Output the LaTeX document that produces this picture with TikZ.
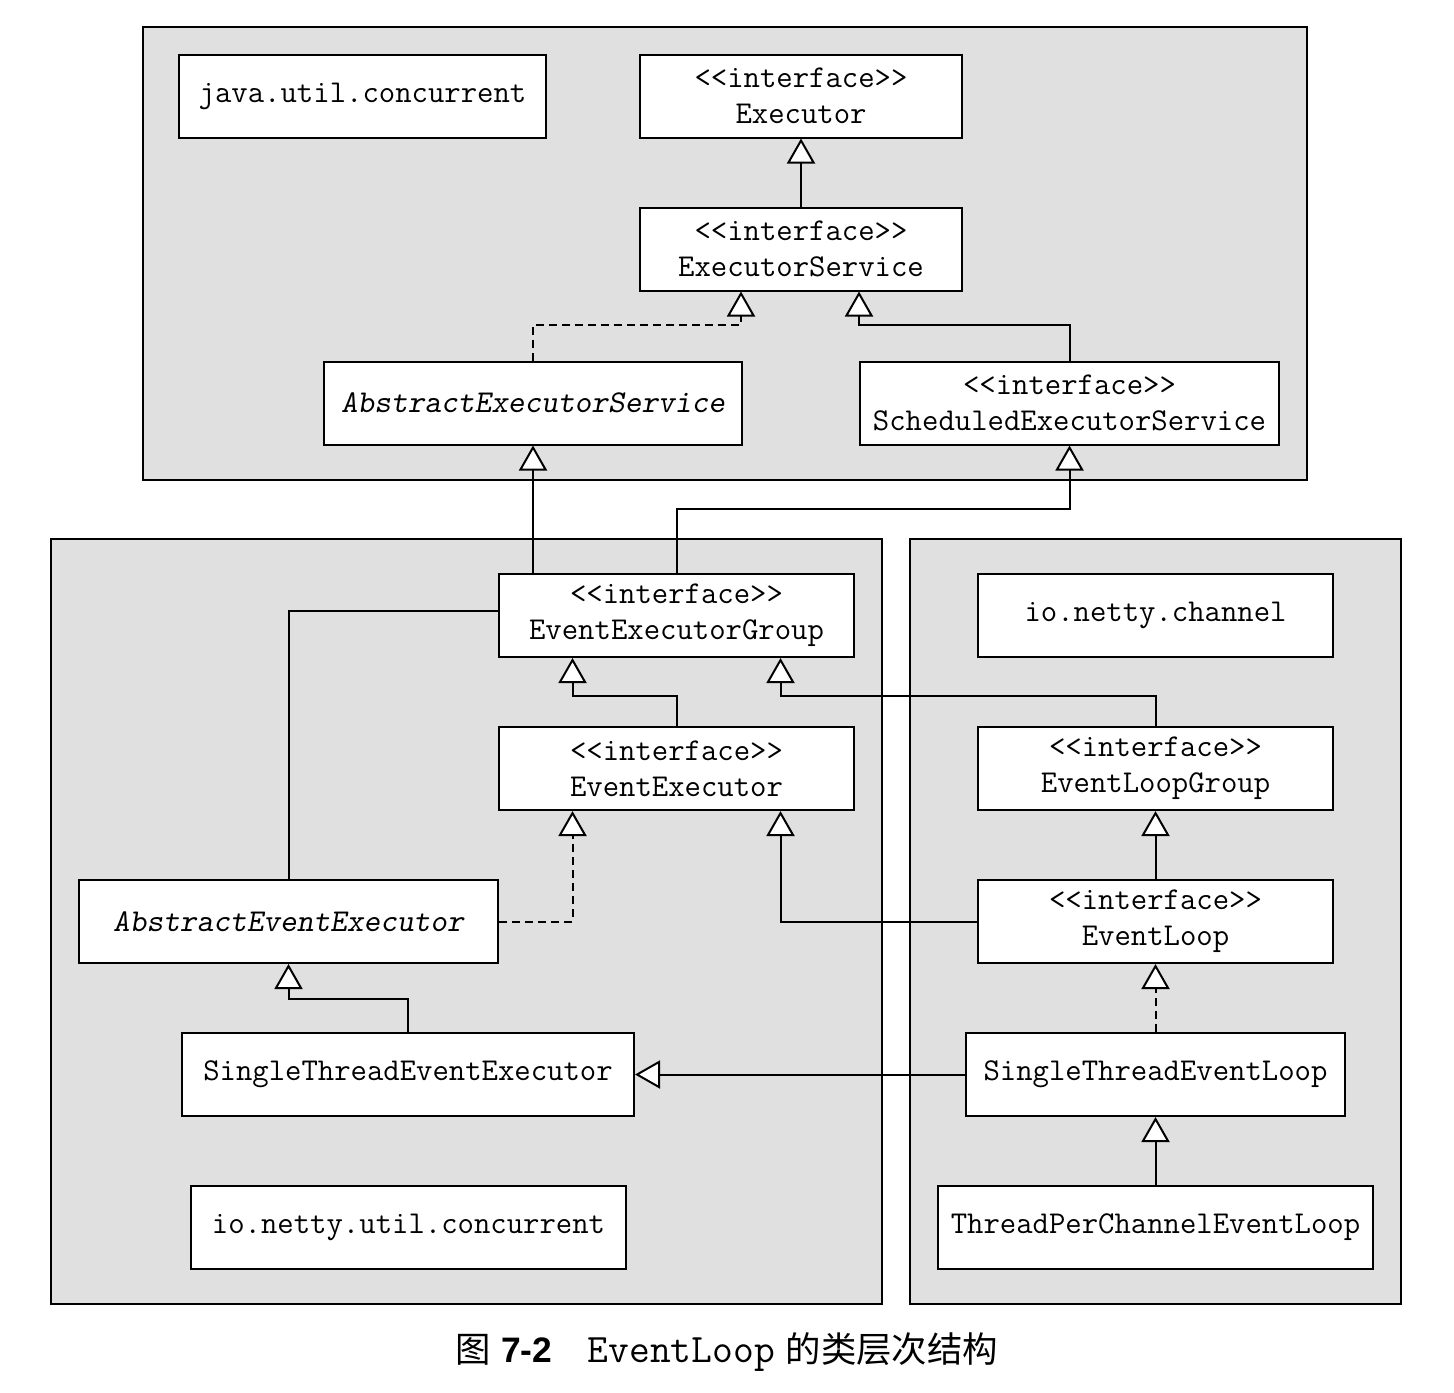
\documentclass[tikz,border=0pt]{standalone}
\usepackage{fontspec}
\newfontfamily\cjkfont{Noto Sans CJK SC}
\newfontfamily\capfont{Liberation Sans}
\usetikzlibrary{positioning,arrows.meta}
\definecolor{pkggray}{HTML}{E0E0E0}

\begin{document}
\begin{tikzpicture}[x=0.5pt, y=-0.5pt, node distance=34pt,
  cls/.style={draw, fill=white, line width=1pt, inner sep=0pt, minimum height=41.5pt,
    align=center, font=\fontsize{15.9}{18}\selectfont\ttfamily},
  abs/.style={cls, font=\fontsize{15.9}{18}\selectfont\ttfamily\slshape},
  pkg/.style={draw, fill=pkggray, line width=1pt},
  link/.style={line width=1pt},
  inherit/.style={link, -{Triangle[fill=white, length=12.5pt, width=14pt]}},
  realize/.style={inherit, dash pattern=on 4pt off 2.5pt}]
  \useasboundingbox (0,0) rectangle (1454,1392);

  % packages
  \draw[pkg] (143,27) rectangle (1307,480) ; %
  \draw[pkg] (51,539) rectangle (882,1304) ; %
  \draw[pkg] (910,539) rectangle (1401,1304) ; %

  % java.util.concurrent
  \node[cls, minimum width=183.5pt] (juc) at (362.5,96) {java.util.concurrent} ; %
  \node[cls, minimum width=161pt] (exec) at (801,96) {<<interface>>\\Executor} ; %
  \node[cls, minimum width=161pt, below=of exec] (es) {<<interface>>\\ExecutorService} ; %
  \node[abs, minimum width=209pt] (aes) at (533,403) {AbstractExecutorService} ; %
  \node[cls, minimum width=209.5pt] (ses) at (1069.5,403) {<<interface>>\\ScheduledExecutorService} ; %

  % io.netty.util.concurrent
  \node[cls, minimum width=177.5pt] (eeg) at (676.5,615.5) {<<interface>>\\EventExecutorGroup} ; %
  \node[cls, minimum width=177.5pt, below=of eeg] (ee) {<<interface>>\\EventExecutor} ; %
  \node[abs, minimum width=209.5pt] (aee) at (288.5,921.5) {AbstractEventExecutor} ; %
  \node[cls, minimum width=226pt] (stee) at (408,1074) {SingleThreadEventExecutor} ; %
  \node[cls, minimum width=217.5pt] (nuc) at (408.5,1227) {io.netty.util.concurrent} ; %

  % io.netty.channel
  \node[cls, minimum width=177.5pt] (nch) at (1155.5,615.5) {io.netty.channel} ; %
  \node[cls, minimum width=177.5pt, below=of nch] (elg) {<<interface>>\\EventLoopGroup} ; %
  \node[cls, minimum width=177.5pt, below=of elg] (el) {<<interface>>\\EventLoop} ; %
  \node[cls, minimum width=189.5pt, below=of el] (stel) {SingleThreadEventLoop} ; %
  \node[cls, minimum width=217.5pt, below=of stel] (tpcel) {ThreadPerChannelEventLoop} ; %

  % edges
  \draw[inherit] (es) -- (exec) ; %
  \draw[realize] (aes.north) -- ++(0,-36) -| ([xshift=-30pt]es.south) ; %
  \draw[inherit] (ses.north) -- ++(0,-36) -| ([xshift=29pt]es.south) ; %
  \draw[inherit] (eeg.north -| aes.south) -- (aes.south) ; %
  \draw[inherit] (eeg.north) -- ++(0,-64) -| (ses.south) ; %
  \draw[inherit] (ee.north) -- ++(0,-30) -| ([xshift=-52pt]eeg.south) ; %
  \draw[inherit] (elg.north) -- ++(0,-30) -| ([xshift=52pt]eeg.south) ; %
  \draw[link] (aee.north) |- ([yshift=2.25pt]eeg.west) ; %
  \draw[realize] (aee.east) -| ([xshift=-52pt]ee.south) ; %
  \draw[inherit] (el.west) -| ([xshift=52pt]ee.south) ; %
  \draw[inherit] (el) -- (elg) ; %
  \draw[inherit] (stee.north) -- ++(0,-33) -| (aee.south) ; %
  \draw[realize] (stel) -- (el) ; %
  \draw[inherit] (stel.west) -- (stel.west -| stee.east) ; %
  \draw[inherit] (tpcel) -- (stel) ; %

  % caption
  \node[font=\fontsize{17.7}{20}\selectfont] (caption) at (726.5,1352)
    {{\cjkfont 图} {\capfont\bfseries 7-2}\hspace{1em}{\fontsize{20.2}{20}\selectfont\ttfamily EventLoop} {\cjkfont 的类层次结构}} ; %
\end{tikzpicture}
\end{document}
